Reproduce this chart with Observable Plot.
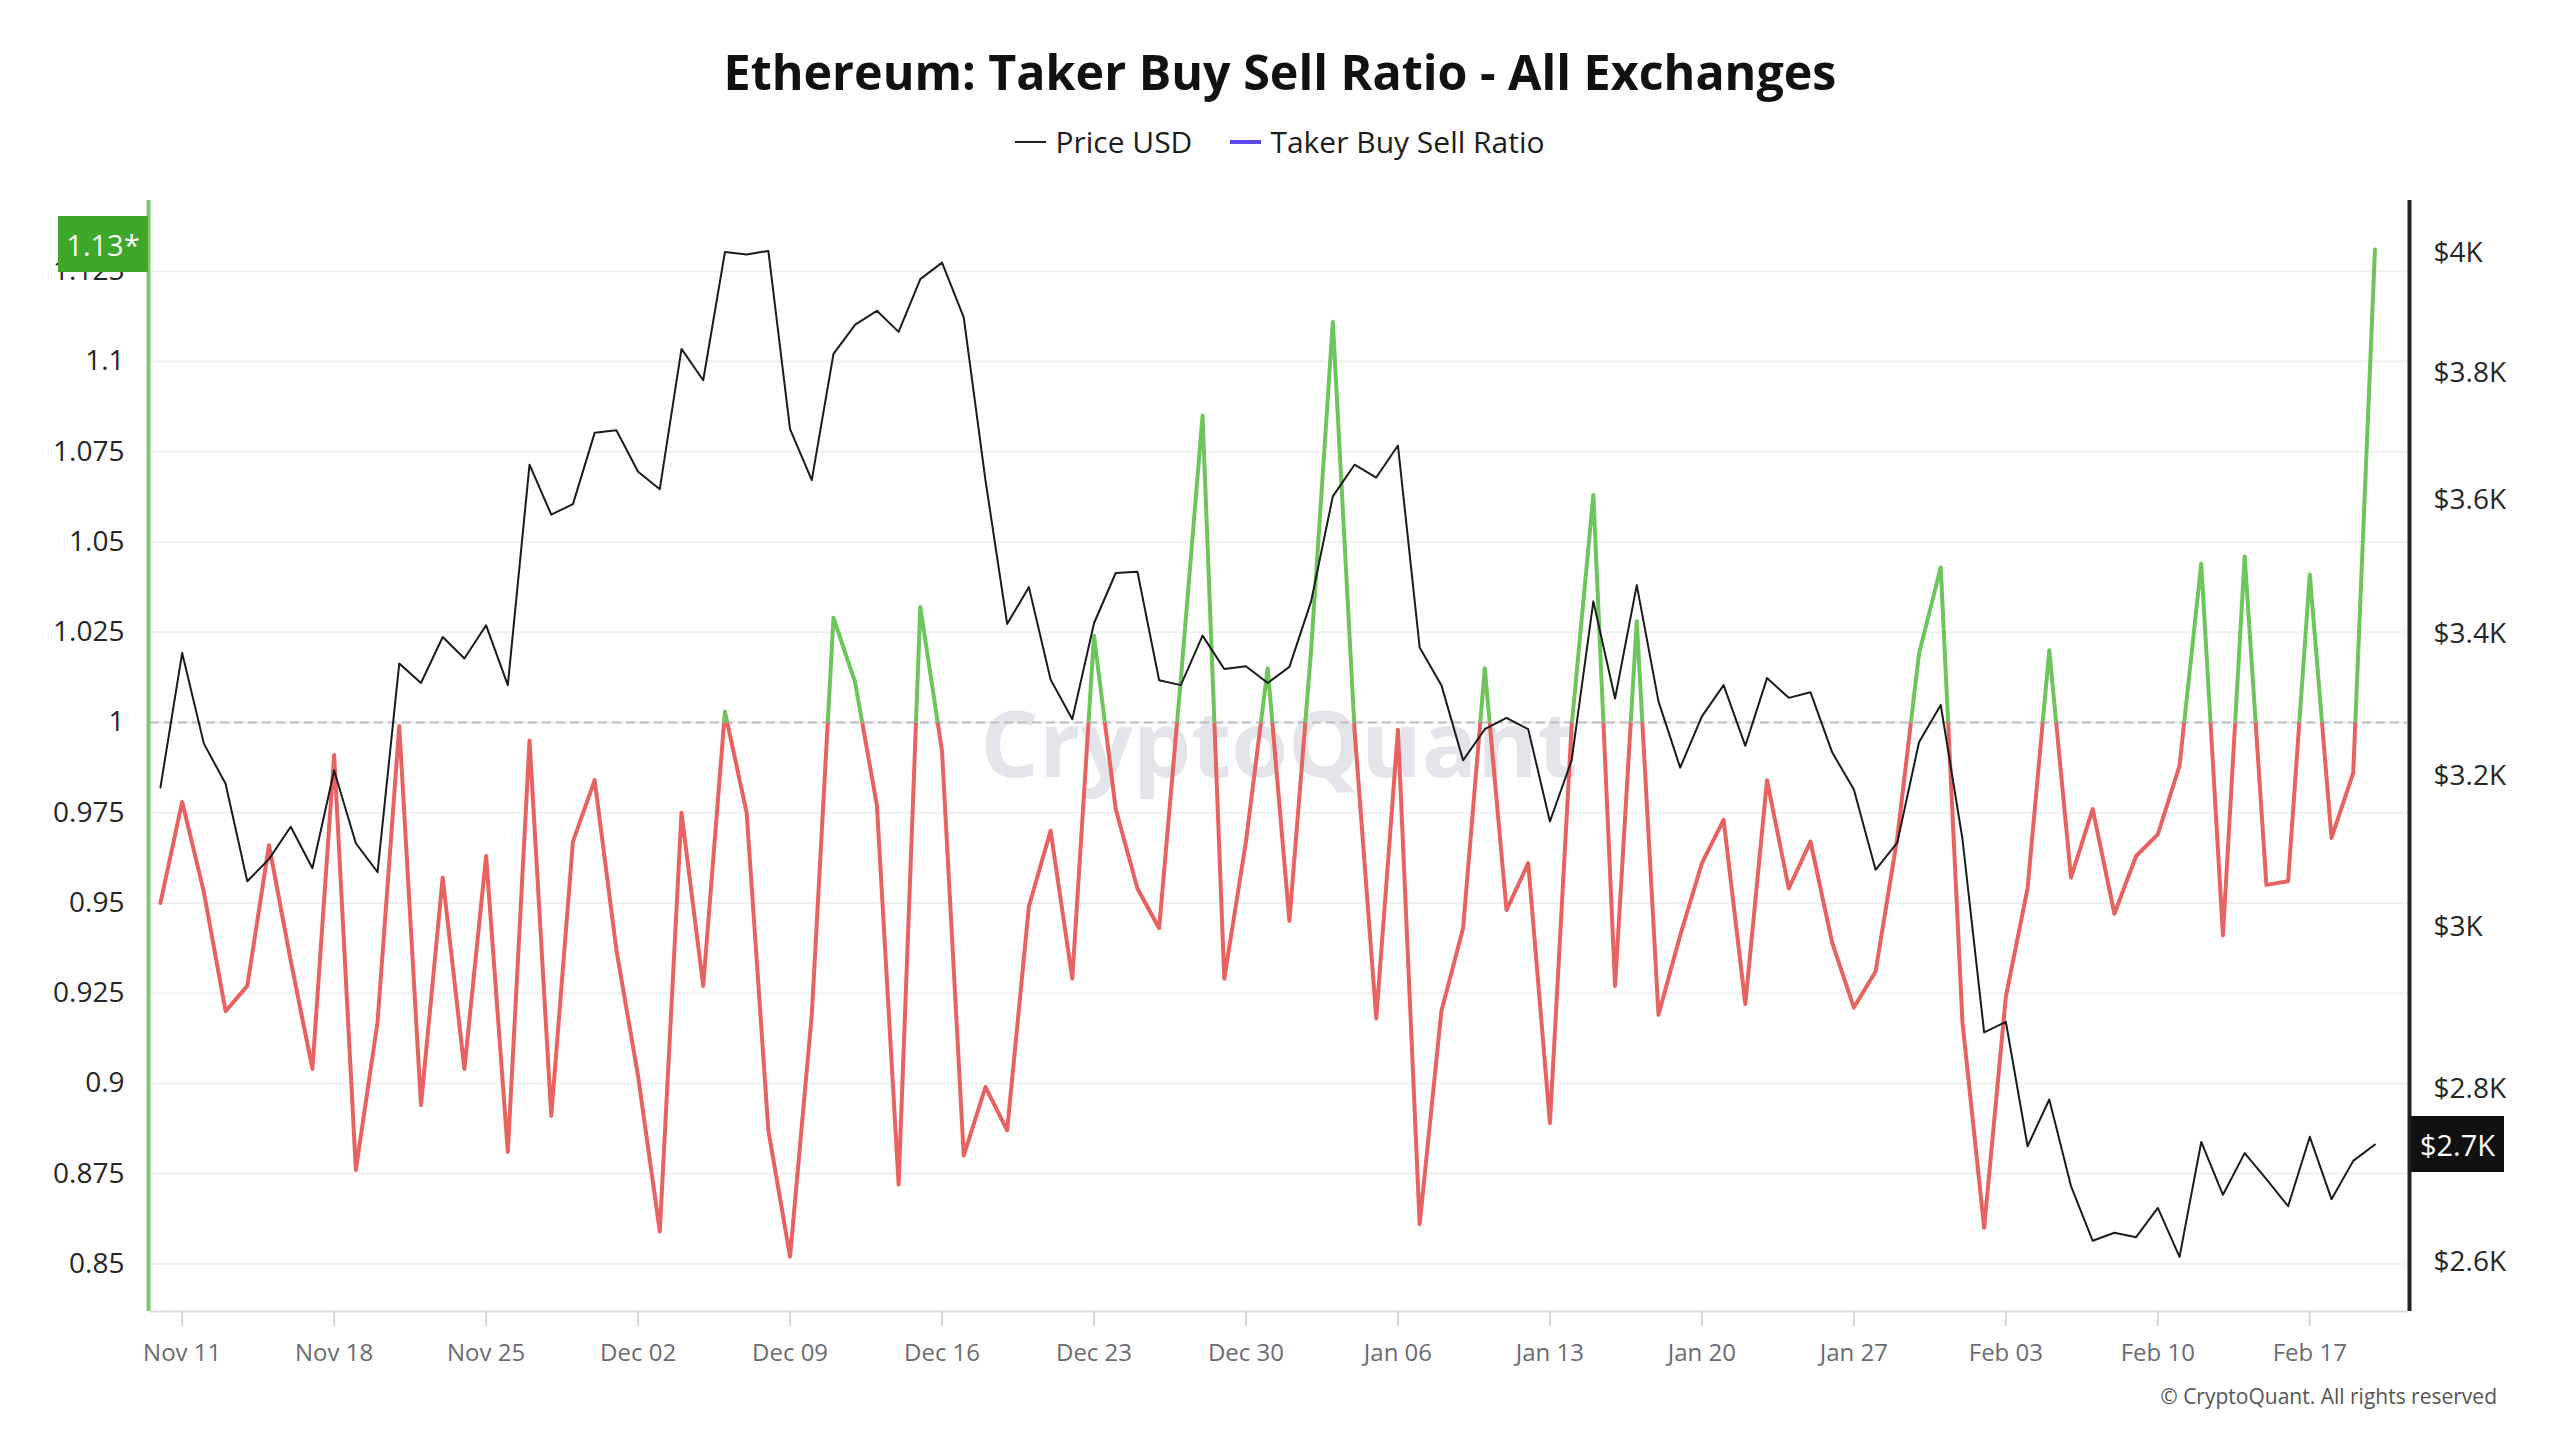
<!DOCTYPE html>
<html>
<head>
<meta charset="utf-8">
<script src="https://cdn.jsdelivr.net/npm/d3@7"></script>
<script src="https://cdn.jsdelivr.net/npm/@observablehq/plot@0.6"></script>
<style>
  html, body { margin: 0; padding: 0; background: #fff; }
  body { width: 2560px; height: 1440px; overflow: hidden; font-family: "Open Sans", sans-serif; color: #161616; }
  #title { height: 110px; box-sizing: border-box; padding-top: 43px; text-align: center; font-size: 48.4px; font-weight: 700; line-height: 56px; color: #111; }
  #legend { height: 70px; box-sizing: border-box; padding-top: 0px; padding-bottom: 6px; display: flex; justify-content: center; align-items: center; font-size: 30px; line-height: 40px; color: #1c1c1c; }
  #legend .item { display: flex; align-items: center; }
  #legend .sw { display: inline-block; width: 31px; margin-right: 9px; }
  #legend .gap { width: 38px; }
  #chart { position: relative; width: 2560px; height: 1200px; }
  #chart svg { position: absolute; left: 0; top: 0; }
  .vbox { position: absolute; color: #fff; font-size: 29px; display: flex; align-items: center; justify-content: center; box-sizing: border-box; }
  #caption { height: 60px; line-height: 32px; text-align: right; padding-right: 63px; font-size: 21px; color: #555; }
</style>
</head>
<body>
<div id="title">Ethereum: Taker Buy Sell Ratio - All Exchanges</div>
<div id="legend">
  <div class="item"><span class="sw" style="border-top:2px solid #222;"></span><span>Price USD</span></div>
  <div class="gap"></div>
  <div class="item"><span class="sw" style="border-top:4px solid #5a4aec;"></span><span>Taker Buy Sell Ratio</span></div>
</div>
<div id="chart"></div>
<div id="caption">© CryptoQuant. All rights reserved</div>
<script>
// ---------------- data ----------------
const startDate = "2024-11-10"; // first daily observation

const ratio = [
  0.950, 0.978, 0.953, 0.920, 0.927, 0.966, 0.934, 0.904, 0.991, 0.876,
  0.917, 0.999, 0.894, 0.957, 0.904, 0.963, 0.881, 0.995, 0.891, 0.967,
  0.984, 0.937, 0.902, 0.859, 0.975, 0.927, 1.003, 0.975, 0.887, 0.852,
  0.919, 1.029, 1.011, 0.977, 0.872, 1.032, 0.992, 0.880, 0.899, 0.887,
  0.949, 0.970, 0.929, 1.024, 0.976, 0.954, 0.943, 1.012, 1.085, 0.929,
  0.967, 1.015, 0.945, 1.020, 1.111, 0.998, 0.918, 0.998, 0.861, 0.920,
  0.943, 1.015, 0.948, 0.961, 0.889, 0.999, 1.063, 0.927, 1.028, 0.919,
  0.941, 0.961, 0.973, 0.922, 0.984, 0.954, 0.967, 0.939, 0.921, 0.931,
  0.968, 1.019, 1.043, 0.917, 0.860, 0.924, 0.954, 1.020, 0.957, 0.976,
  0.947, 0.963, 0.969, 0.988, 1.044, 0.941, 1.046, 0.955, 0.956, 1.041,
  0.968, 0.986, 1.131
];

const price = [
  3184, 3372, 3244, 3189, 3059, 3088, 3131, 3076, 3207, 3109,
  3071, 3357, 3329, 3395, 3364, 3412, 3326, 3654, 3577, 3593,
  3704, 3708, 3643, 3616, 3839, 3788, 4001, 3997, 4003, 3710,
  3630, 3831, 3879, 3902, 3867, 3955, 3983, 3891, 3630, 3414,
  3468, 3334, 3278, 3415, 3489, 3491, 3333, 3326, 3397, 3349,
  3353, 3329, 3352, 3447, 3605, 3654, 3634, 3684, 3380, 3326,
  3221, 3264, 3280, 3264, 3138, 3221, 3447, 3307, 3471, 3303,
  3211, 3282, 3326, 3241, 3336, 3308, 3316, 3232, 3181, 3074,
  3110, 3246, 3298, 3115, 2868, 2881, 2732, 2787, 2686, 2624,
  2633, 2628, 2661, 2606, 2737, 2676, 2724, 2694, 2663, 2743,
  2671, 2715, 2734
];

const xTickDates = ["2024-11-11","2024-11-18","2024-11-25","2024-12-02","2024-12-09","2024-12-16","2024-12-23","2024-12-30","2025-01-06","2025-01-13","2025-01-20","2025-01-27","2025-02-03","2025-02-10","2025-02-17"];
const xTickLabels = ["Nov 11","Nov 18","Nov 25","Dec 02","Dec 09","Dec 16","Dec 23","Dec 30","Jan 06","Jan 13","Jan 20","Jan 27","Feb 03","Feb 10","Feb 17"];
const ratioTicks = [0.85, 0.875, 0.9, 0.925, 0.95, 0.975, 1, 1.025, 1.05, 1.075, 1.1, 1.125];
const priceTicks = [2600, 2800, 3000, 3200, 3400, 3600, 3800, 4000];
const xDomainStr = ["2024-11-09T13:00:00Z", "2025-02-21T12:00:00Z"];
const ratioDomain = [0.8368, 1.1446];
const priceDomain = [2546, 4090];

// ---------------- build ----------------
const start = new Date(startDate + "T00:00:00Z");
const rows = ratio.map((r, i) => ({ date: d3.utcDay.offset(start, i), ratio: r, price: price[i] }));
const xTicks = xTickDates.map(s => new Date(s + "T00:00:00Z"));
const xDomain = xDomainStr.map(s => new Date(s));
const xFmt = d => { const k = xTicks.findIndex(t => +t === +d); return k >= 0 ? xTickLabels[k] : ""; };

const W = 2560, H = 1200;
const margins = { marginTop: 20, marginBottom: 69, marginLeft: 150, marginRight: 153 };
const font = "'Open Sans', sans-serif";
const svgNS = "http://www.w3.org/2000/svg";

// function mark that defines clip regions above / below ratio = 1 using the y scale
const clipDefs = (index, scales, values, dims) => {
  const y1 = scales.y(1);
  const defs = document.createElementNS(svgNS, "defs");
  [["clip-up", -20, y1 + 20], ["clip-down", y1, dims.height - y1 + 20]].forEach(([id, y, h]) => {
    const cp = document.createElementNS(svgNS, "clipPath");
    cp.setAttribute("id", id);
    cp.setAttribute("clipPathUnits", "userSpaceOnUse");
    const r = document.createElementNS(svgNS, "rect");
    r.setAttribute("x", -20); r.setAttribute("y", y);
    r.setAttribute("width", dims.width + 40); r.setAttribute("height", h);
    cp.appendChild(r); defs.appendChild(cp);
  });
  return defs;
};

const ratioPlot = Plot.plot({
  width: W, height: H, ...margins,
  style: { background: "transparent", fontFamily: font, overflow: "visible" },
  x: { type: "utc", domain: xDomain, label: null },
  y: { domain: ratioDomain, label: null },
  marks: [
    clipDefs,
    Plot.ruleY(ratioTicks, { stroke: "#f0f0f3", strokeWidth: 2 }),
    Plot.text(["CryptoQuant"], { frameAnchor: "middle", dy: -8, fontSize: 92, fontWeight: 700, fill: "#e4e4ea", fontFamily: font }),
    Plot.ruleY([1], { stroke: "#bdbdc2", strokeWidth: 2, strokeDasharray: "9,5" }),
    Plot.lineY(rows, { x: "date", y: "ratio", stroke: "#6cc65b", strokeWidth: 4 }),
    Plot.lineY(rows, { x: "date", y: "ratio", stroke: "#e8625f", strokeWidth: 4 }),
    Plot.ruleY([ratioDomain[0]], { stroke: "#d9d9de", strokeWidth: 2 }),
    Plot.axisX({ ticks: xTicks, tickFormat: xFmt, tickSize: 15, tickPadding: 17, fontSize: 24, stroke: "#d6d6db", strokeWidth: 2, fill: "#6b6b72", label: null }),
    Plot.axisY({ anchor: "left", ticks: ratioTicks, tickFormat: d => String(+d.toFixed(3)), tickSize: 0, tickPadding: 26, fontSize: 28, fill: "#262626", label: null }),
    Plot.ruleX([xDomain[0]], { stroke: "#7bca6b", strokeWidth: 4, dx: -2 })
  ]
});

const pricePlot = Plot.plot({
  width: W, height: H, ...margins,
  style: { background: "transparent", fontFamily: font, overflow: "visible", pointerEvents: "none" },
  x: { type: "utc", domain: xDomain, axis: null },
  y: { type: "log", domain: priceDomain, label: null },
  marks: [
    Plot.lineY(rows, { x: "date", y: "price", stroke: "#1b1b1b", strokeWidth: 2 }),
    Plot.axisY({ anchor: "right", ticks: priceTicks, tickFormat: d => "$" + (d / 1000) + "K", tickSize: 0, tickPadding: 26, fontSize: 28, fill: "#262626", label: null }),
    Plot.ruleX([xDomain[1]], { stroke: "#222", strokeWidth: 4, dx: 2 })
  ]
});

// colour the ratio line green above 1 and red below 1 (the two line groups, in order)
const ratioSvg = ratioPlot.tagName.toLowerCase() === "svg" ? ratioPlot : ratioPlot.querySelector("svg");
const lineGroups = ratioSvg.querySelectorAll('g[aria-label="line"]');
if (lineGroups.length >= 2 && ratioSvg.querySelector("#clip-up")) {
  lineGroups[0].setAttribute("clip-path", "url(#clip-up)");
  lineGroups[1].setAttribute("clip-path", "url(#clip-down)");
}

const chart = document.getElementById("chart");
chart.appendChild(ratioPlot);
chart.appendChild(pricePlot);

// last-value badges positioned through the scales
const lastRatio = ratio[ratio.length - 1];
const lastPrice = price[price.length - 1];
const gy = ratioPlot.scale("y").apply(lastRatio) - 5;
const py = pricePlot.scale("y").apply(lastPrice);

const gBox = document.createElement("div");
gBox.className = "vbox";
gBox.style.cssText = `left:58px;width:90px;height:56px;top:${gy - 28}px;background:#3da82a;`;
gBox.textContent = lastRatio.toFixed(2) + "*";
chart.appendChild(gBox);

const pBox = document.createElement("div");
pBox.className = "vbox";
pBox.style.cssText = `left:2411px;width:93px;height:56px;top:${py - 28}px;background:#111;`;
pBox.textContent = "$" + (lastPrice / 1000).toFixed(1) + "K";
chart.appendChild(pBox);
</script>
</body>
</html>
